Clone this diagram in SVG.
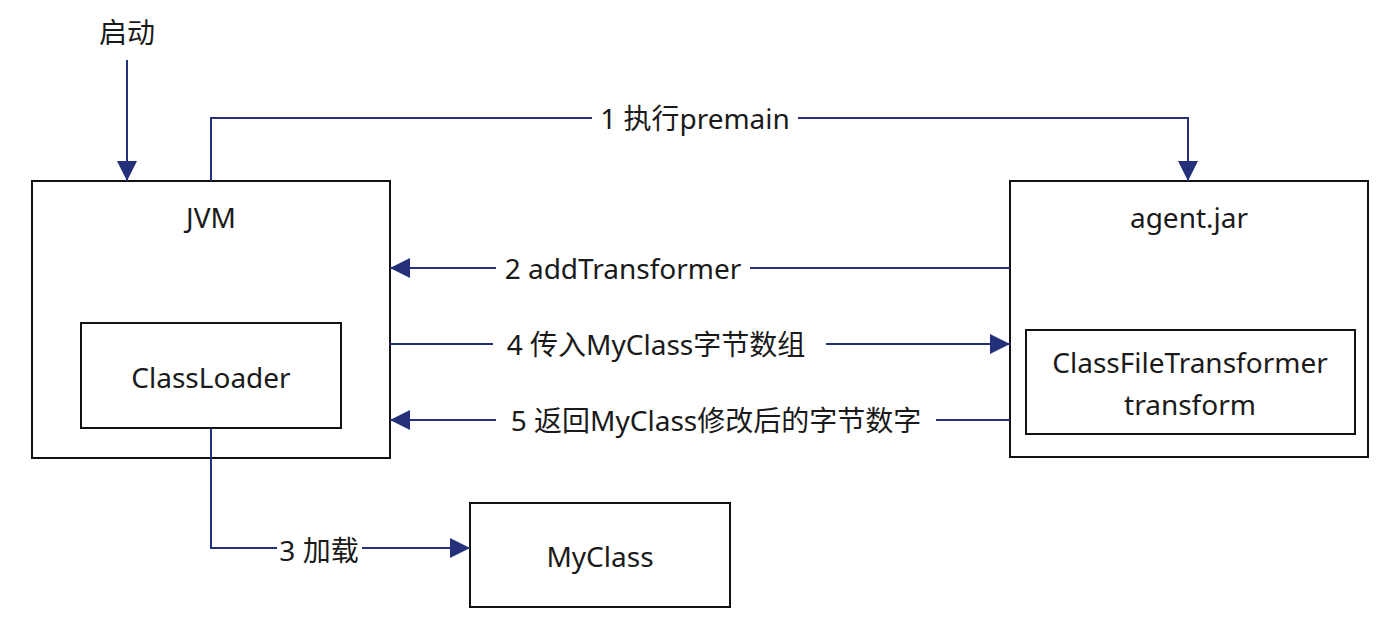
<svg xmlns="http://www.w3.org/2000/svg" width="1400" height="624" viewBox="0 0 1400 624">
<style>
text{font-family:"Noto Sans","Noto Sans CJK SC",sans-serif;font-size:28px;fill:#1a1a1a;text-anchor:middle;dominant-baseline:central}
.box{fill:#fff;stroke:#111;stroke-width:2}
.edge{fill:none;stroke:#25307a;stroke-width:2}
.lbl{fill:#fff;stroke:none}
</style>
<defs>
<marker id="ah" viewBox="0 0 10 10" refX="10" refY="5" markerWidth="20" markerHeight="20" markerUnits="userSpaceOnUse" orient="auto">
<path d="M0,0 L10,5 L0,10 z" fill="#25307a"/>
</marker>
</defs>
<rect width="1400" height="624" fill="#fff"/>
<g id="jvm">
<rect class="box" x="32" y="181" width="358" height="277"/>
<text x="211" y="217">JVM</text>
</g>
<g id="classloader">
<rect class="box" x="81" y="323" width="260" height="105"/>
<text x="211" y="377">ClassLoader</text>
</g>
<g id="agent">
<rect class="box" x="1010" y="181" width="358" height="276"/>
<text x="1189" y="217">agent.jar</text>
</g>
<g id="transformer">
<rect class="box" x="1026" y="330" width="329" height="104"/>
<text x="1190" y="362">ClassFileTransformer</text>
<text x="1190" y="404">transform</text>
</g>
<g id="myclass">
<rect class="box" x="470" y="503" width="260" height="104"/>
<text x="600" y="556">MyClass</text>
</g>
<g id="start">
<text x="127" y="32">启动</text>
</g>
<g id="connectors">
<path class="edge" d="M127,60 V181" marker-end="url(#ah)"/>
<path class="edge" d="M211,181 V118 H1188 V181" marker-end="url(#ah)"/>
<rect class="lbl" x="592" y="102" width="206" height="32"/>
<text x="695" y="118">1 执行premain</text>
<path class="edge" d="M1010,268 H390" marker-end="url(#ah)"/>
<rect class="lbl" x="496" y="252" width="254" height="32"/>
<text x="623" y="268">2 addTransformer</text>
<path class="edge" d="M390,344 H1010" marker-end="url(#ah)"/>
<rect class="lbl" x="493" y="328" width="333" height="32"/>
<text x="656" y="344">4 传入MyClass字节数组</text>
<path class="edge" d="M1010,420 H390" marker-end="url(#ah)"/>
<rect class="lbl" x="496" y="404" width="440" height="32"/>
<text x="716" y="420">5 返回MyClass修改后的字节数字</text>
<path class="edge" d="M211,428 V548 H470" marker-end="url(#ah)"/>
<rect class="lbl" x="277" y="532" width="85" height="32"/>
<text x="319" y="550">3 加载</text>
</g>
</svg>
